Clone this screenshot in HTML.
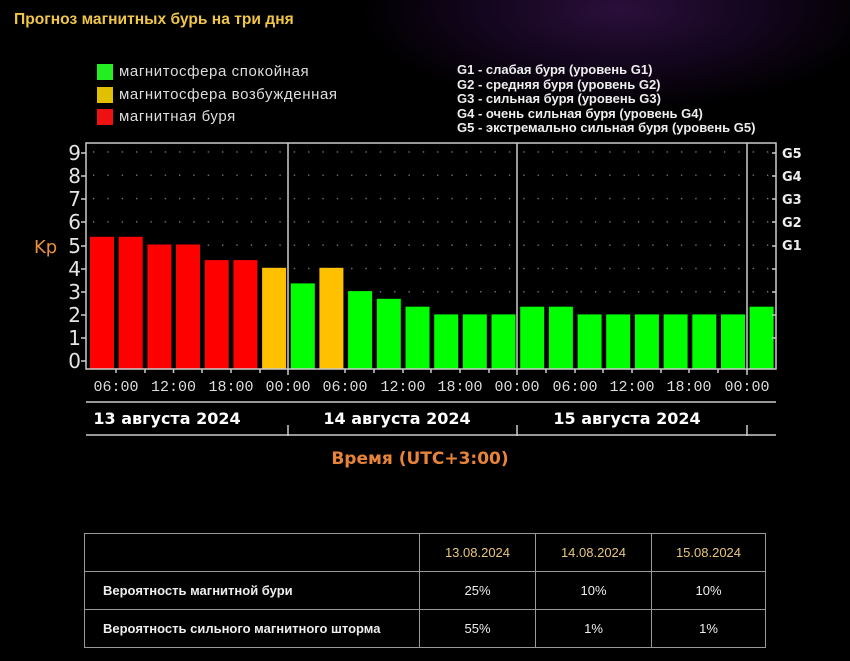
<!DOCTYPE html>
<html><head><meta charset="utf-8"><style>
html,body{margin:0;padding:0;background:#000;}
body{width:850px;height:661px;position:relative;overflow:hidden;font-family:"Liberation Sans",sans-serif;
background:radial-gradient(ellipse 260px 100px at 620px 10px,#2a0f3a 0%,#150620 50%,#000 100%),#000;}
.t{position:absolute;white-space:nowrap}
table{position:absolute;left:84px;top:533px;border-collapse:collapse;font-family:"Liberation Sans",sans-serif;font-size:13px;color:#eee}
td{border:1px solid #999;height:37px;padding:0;text-align:center}
td.l{text-align:left;padding-left:18px;font-weight:bold}
td.h{color:#e8c77a}
</style></head><body>
<div class="t" style="left:14px;top:11px;color:#f0c648;font-weight:bold;font-size:15.6px">Прогноз магнитных бурь на три дня</div>
<div style="position:absolute;left:97px;top:64px;width:16px;height:16px;background:#22ee22"></div>
<div style="position:absolute;left:97px;top:87px;width:16px;height:16px;background:#e0c000"></div>
<div style="position:absolute;left:97px;top:109px;width:16px;height:16px;background:#ee1111"></div>
<div class="t" style="left:119px;top:63px;color:#ddd;font-size:15px;letter-spacing:0.6px">магнитосфера спокойная</div>
<div class="t" style="left:119px;top:86px;color:#ddd;font-size:15px;letter-spacing:0.6px">магнитосфера возбужденная</div>
<div class="t" style="left:119px;top:108px;color:#ddd;font-size:15px;letter-spacing:0.6px">магнитная буря</div>
<div class="t" style="left:457px;top:63px;color:#eee;font-size:13px;font-weight:bold;line-height:14.5px">G1 - слабая буря (уровень G1)<br>G2 - средняя буря (уровень G2)<br>G3 - сильная буря (уровень G3)<br>G4 - очень сильная буря (уровень G4)<br>G5 - экстремально сильная буря (уровень G5)</div>
<svg width="850" height="661" style="position:absolute;left:0;top:0" xmlns="http://www.w3.org/2000/svg">
<defs><pattern id="d" x="93" y="151.3" width="14.34" height="23.3" patternUnits="userSpaceOnUse"><rect x="0" y="0" width="1.3" height="1.3" fill="#888"/></pattern></defs>
<rect x="88" y="150" width="686" height="195" fill="url(#d)"/>
<g fill="#ff0000">
<rect x="90" y="236.8" width="24" height="132.2"/><rect x="118.7" y="236.8" width="24" height="132.2"/>
<rect x="147.4" y="244.5" width="24" height="124.5"/><rect x="176" y="244.5" width="24" height="124.5"/>
<rect x="204.7" y="260.1" width="24" height="108.9"/><rect x="233.4" y="260.1" width="24" height="108.9"/>
</g>
<g fill="#ffc000"><rect x="262.1" y="267.8" width="24" height="101.2"/><rect x="319.4" y="267.8" width="24" height="101.2"/></g>
<g fill="#00ff00">
<rect x="290.8" y="283.4" width="24" height="85.6"/>
<rect x="348.1" y="291.1" width="24" height="77.9"/>
<rect x="376.8" y="298.8" width="24" height="70.2"/>
<rect x="405.5" y="306.7" width="24" height="62.3"/>
<rect x="434.2" y="314.4" width="24" height="54.6"/><rect x="462.8" y="314.4" width="24" height="54.6"/><rect x="491.5" y="314.4" width="24" height="54.6"/>
<rect x="520.2" y="306.7" width="24" height="62.3"/><rect x="548.9" y="306.7" width="24" height="62.3"/>
<rect x="577.6" y="314.4" width="24" height="54.6"/><rect x="606.2" y="314.4" width="24" height="54.6"/><rect x="634.9" y="314.4" width="24" height="54.6"/><rect x="663.6" y="314.4" width="24" height="54.6"/><rect x="692.3" y="314.4" width="24" height="54.6"/><rect x="721" y="314.4" width="24" height="54.6"/>
<rect x="749.6" y="306.7" width="24" height="62.3"/>
</g>
<g stroke="#ccc" stroke-width="1.5" fill="none">
<path d="M86 143H776V369H86Z"/>
<path d="M288 143V375M517 143V375M747 143V375"/>
<path d="M86 402H776M86 435H776M288 425V436M517 425V436M747 425V436"/>
<path d="M81 153H86M81 176H86M81 199H86M81 222H86M81 246H86M81 269H86M81 292H86M81 315H86M81 338H86M81 361H86"/>
<path d="M772 153H776M772 176H776M772 199H776M772 222H776M772 246H776M772 269H776M772 292H776M772 315H776M772 338H776"/>
<path d="M116 369V373M145 369V373M173.5 369V373M202 369V373M231 369V373M260 369V373M345 369V373M374 369V373M403 369V373M431 369V373M460 369V373M489 369V373M546 369V373M575 369V373M603 369V373M632 369V373M661 369V373M689 369V373M718 369V373"/>
</g>
<g fill="#e4e4e4" font-family="DejaVu Sans,sans-serif" font-size="20" text-anchor="end">
<text x="81" y="160">9</text><text x="81" y="183">8</text><text x="81" y="206">7</text><text x="81" y="229">6</text><text x="81" y="253">5</text><text x="81" y="276">4</text><text x="81" y="299">3</text><text x="81" y="322">2</text><text x="81" y="345">1</text><text x="81" y="368">0</text>
</g>
<text x="34" y="253" fill="#e8913a" font-family="DejaVu Sans,sans-serif" font-size="18">Kp</text>
<g fill="#eee" font-family="DejaVu Sans,sans-serif" font-size="13" font-weight="bold">
<text x="782" y="158">G5</text><text x="782" y="181">G4</text><text x="782" y="204">G3</text><text x="782" y="227">G2</text><text x="782" y="250">G1</text>
</g>
<g fill="#ddd" font-family="Liberation Mono,DejaVu Sans Mono,monospace" font-size="15" text-anchor="middle">
<text x="116" y="391">06:00</text><text x="173.5" y="391">12:00</text><text x="231" y="391">18:00</text><text x="288" y="391">00:00</text>
<text x="345" y="391">06:00</text><text x="403" y="391">12:00</text><text x="460" y="391">18:00</text><text x="517" y="391">00:00</text>
<text x="575" y="391">06:00</text><text x="632" y="391">12:00</text><text x="689" y="391">18:00</text><text x="747" y="391">00:00</text>
</g>
<g fill="#fff" font-family="DejaVu Sans,sans-serif" font-size="16" font-weight="bold" text-anchor="middle">
<text x="167" y="424">13 августа 2024</text><text x="397" y="424">14 августа 2024</text><text x="627" y="424">15 августа 2024</text>
</g>
<text x="420" y="464" fill="#e8843a" font-family="DejaVu Sans,sans-serif" font-size="17" font-weight="bold" text-anchor="middle">Время (UTC+3:00)</text>
</svg>
<table>
<tr><td style="width:334px"></td><td class="h" style="width:115px">13.08.2024</td><td class="h" style="width:115px">14.08.2024</td><td class="h" style="width:113px">15.08.2024</td></tr>
<tr><td class="l">Вероятность магнитной бури</td><td>25%</td><td>10%</td><td>10%</td></tr>
<tr><td class="l">Вероятность сильного магнитного шторма</td><td>55%</td><td>1%</td><td>1%</td></tr>
</table>
</body></html>
